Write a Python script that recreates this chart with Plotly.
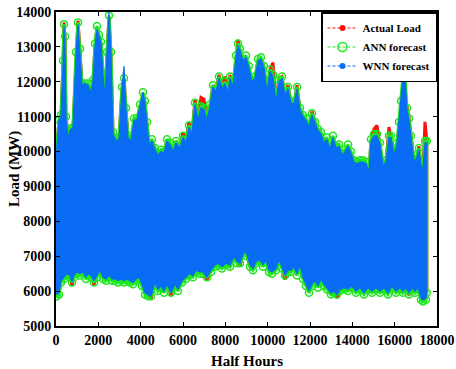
import plotly.graph_objects as go

# Upper envelope sample positions (half hours) and values (MW)
hx = [0, 47, 140, 236, 330, 378, 425, 472, 567, 661, 803, 945, 1039, 1134, 1228, 1370, 1512, 1653, 1748, 1842,
      1937, 2031, 2126, 2220, 2315, 2409, 2504, 2598, 2693, 2834, 2976, 3118, 3212, 3307, 3401, 3543, 3685, 3826,
      3968, 4110, 4204, 4299, 4393, 4535, 4677, 4818, 4960, 5102, 5244, 5385, 5527, 5669, 5858, 6000, 6141, 6283,
      6425, 6566, 6708, 6850, 6992, 7133, 7275, 7417, 7559, 7700, 7842, 7984, 8125, 8220, 8362, 8503, 8598, 8692,
      8834, 8975, 9117, 9259, 9400, 9542, 9684, 9826, 9968, 10109, 10251, 10393, 10535, 10676, 10818, 10960, 11102,
      11243, 11385, 11527, 11668, 11810, 11952, 12093, 12235, 12377, 12519, 12660, 12802, 12944, 13085, 13227,
      13369, 13510, 13652, 13794, 13936, 14077, 14219, 14361, 14503, 14644, 14786, 14880, 15022, 15164, 15306,
      15447, 15589, 15731, 15825, 15967, 16109, 16203, 16298, 16392, 16440, 16487, 16581, 16676, 16770, 16912,
      17054, 17148, 17243, 17337, 17432, 17520]

wnn_hi = [9500, 10200, 10900, 11000, 12500, 13600, 13200, 11000, 10400, 10600, 10700, 12800, 13650, 12900, 11900,
          11950, 11900, 11700, 12000, 13000, 13500, 13300, 13100, 12200, 11500, 12800, 14000, 12800, 10500, 10300,
          10350, 11800, 12450, 11200, 10400, 10300, 10900, 10900, 11300, 11700, 11400, 10800, 10200, 10300, 10050,
          9900, 10000, 9950, 10300, 10200, 10000, 10250, 10100, 10400, 10250, 10700, 10500, 11350, 10900, 11250,
          11200, 10900, 11300, 11850, 11700, 12100, 11800, 11950, 11700, 12100, 11850, 12700, 13050, 12900, 12600,
          12700, 12400, 12000, 12100, 12600, 12650, 12400, 11700, 12300, 12150, 11400, 12000, 12100, 11600, 11800,
          11400, 11350, 11800, 11200, 11000, 10900, 10700, 11050, 10800, 10600, 10500, 10250, 10350, 10050, 10400,
          10100, 10150, 9900, 10000, 10150, 9950, 9700, 9650, 9700, 9700, 9650, 9400, 10300, 10450, 10450, 10200,
          9600, 9700, 10400, 10400, 9900, 10200, 10800, 11400, 12200, 12600, 12200, 11200, 10900, 10400, 9700, 9850,
          10050, 9600, 9500, 10250, 10250]

ann_hi = [9500, 10200, 10900, 11050, 12600, 13650, 13300, 11000, 10450, 10650, 10700, 12850, 13700, 12950, 11950,
          11950, 11950, 11750, 12050, 13100, 13600, 13350, 13150, 12250, 11550, 12850, 13900, 12850, 10550, 10350,
          10400, 11850, 12100, 11250, 10450, 10350, 10950, 10950, 11350, 11700, 11450, 10850, 10250, 10350, 10100,
          9950, 10050, 10000, 10350, 10250, 10050, 10300, 10150, 10450, 10300, 10750, 10550, 11400, 10950, 11300,
          11250, 10950, 11350, 11900, 11750, 12150, 11850, 12000, 11750, 12150, 11900, 12750, 13100, 12950, 12650,
          12750, 12450, 12050, 12150, 12650, 12700, 12450, 11750, 12350, 12200, 11450, 12050, 12150, 11650, 11850,
          11450, 11400, 11850, 11250, 11050, 10950, 10750, 11100, 10850, 10650, 10550, 10300, 10400, 10100, 10450,
          10150, 10200, 9950, 10050, 10200, 10000, 9750, 9700, 9750, 9750, 9700, 9450, 10350, 10500, 10500, 10250,
          9650, 9750, 10450, 10450, 9950, 10250, 10850, 11450, 12250, 12500, 12250, 11250, 10950, 10450, 9750, 9900,
          10100, 9650, 9550, 10300, 10300]

act_hi = [9500, 10200, 10900, 11000, 12500, 13700, 13250, 11000, 10500, 10600, 10700, 12800, 13750, 12900, 11900,
          11950, 11900, 11700, 12050, 13000, 13550, 13300, 13100, 12200, 11500, 12800, 13850, 12800, 10500, 10300,
          10350, 11800, 12100, 11200, 10400, 10300, 10900, 10900, 11300, 11650, 11400, 10800, 10200, 10300, 10100,
          9900, 10000, 9950, 10350, 10200, 10000, 10300, 10150, 10550, 10300, 10850, 10500, 11500, 10900, 11550,
          11500, 10950, 11300, 11900, 11750, 12200, 11850, 12150, 11700, 12200, 11850, 12700, 13200, 12900, 12600,
          12650, 12400, 12000, 12100, 12600, 12650, 12400, 11700, 12350, 12550, 11400, 12100, 12150, 11600, 11900,
          11400, 11350, 11900, 11200, 11000, 10900, 10700, 11150, 10900, 10600, 10500, 10250, 10350, 10050, 10400,
          10100, 10150, 9900, 10000, 10150, 9950, 9700, 9650, 9700, 9700, 9650, 9400, 10300, 10650, 10750, 10200,
          9600, 9700, 10700, 10400, 9900, 10200, 10800, 11300, 11400, 11500, 11300, 11300, 11000, 10400, 9700, 9850,
          10150, 9600, 9500, 10850, 10300]

# Lower envelope sample positions (half hours) and values (MW)
lx = [0, 47, 142, 236, 378, 520, 661, 756, 850, 992, 1134, 1275, 1417, 1512, 1653, 1795, 1937, 2079, 2220, 2362,
      2504, 2645, 2787, 2929, 3071, 3212, 3354, 3496, 3637, 3779, 3921, 4063, 4204, 4346, 4488, 4677, 4818, 4960,
      5102, 5244, 5433, 5622, 5764, 5953, 6141, 6283, 6472, 6614, 6803, 6945, 7133, 7322, 7511, 7653, 7842, 8031,
      8220, 8409, 8550, 8692, 8881, 9023, 9164, 9306, 9448, 9637, 9779, 9920, 10062, 10204, 10393, 10535, 10676,
      10818, 10960, 11102, 11243, 11385, 11527, 11668, 11810, 11952, 12093, 12235, 12377, 12519, 12660, 12802,
      12991, 13133, 13274, 13416, 13605, 13794, 13983, 14172, 14361, 14550, 14739, 14928, 15117, 15306, 15495,
      15684, 15873, 16062, 16250, 16392, 16534, 16676, 16817, 16959, 17101, 17243, 17337, 17479, 17520]

wnn_lo = [6050, 5900, 5950, 6300, 6400, 6500, 6450, 6250, 6450, 6550, 6500, 6550, 6400, 6500, 6450, 6300, 6450,
          6600, 6400, 6350, 6450, 6350, 6350, 6300, 6350, 6300, 6350, 6300, 6250, 6350, 6400, 6200, 5950, 5900,
          5850, 6250, 6050, 6150, 6000, 6200, 5950, 6200, 6050, 6300, 6400, 6500, 6450, 6600, 6550, 6550, 6400,
          6600, 6750, 6800, 6700, 6800, 6750, 7000, 6850, 6800, 7150, 7050, 6750, 6650, 6850, 6900, 6750, 6900,
          6600, 6550, 6650, 6900, 6700, 6450, 6600, 6600, 6700, 6500, 6750, 6400, 6200, 6000, 6200, 6300, 6150,
          6350, 6200, 6100, 5950, 6000, 5900, 6050, 6100, 6050, 6150, 6000, 6100, 5950, 6100, 6000, 6100, 6000,
          6100, 5950, 6150, 6000, 6100, 6000, 6100, 5950, 6100, 6000, 6100, 5800, 5750, 5800, 6000]

ann_lo = [6000, 5850, 5900, 6250, 6350, 6450, 6400, 6250, 6400, 6500, 6450, 6500, 6350, 6450, 6400, 6250, 6400,
          6550, 6350, 6300, 6400, 6300, 6300, 6250, 6300, 6250, 6300, 6250, 6200, 6300, 6350, 6150, 5900, 5850,
          5850, 6200, 6000, 6100, 5950, 6150, 5950, 6150, 6000, 6250, 6350, 6450, 6400, 6550, 6500, 6500, 6400,
          6550, 6700, 6750, 6650, 6750, 6700, 6950, 6800, 6800, 7100, 7000, 6700, 6600, 6800, 6850, 6700, 6850,
          6550, 6500, 6600, 6850, 6650, 6450, 6550, 6550, 6650, 6450, 6700, 6350, 6150, 5950, 6150, 6250, 6100,
          6300, 6150, 6050, 5900, 5950, 5900, 6000, 6050, 6000, 6100, 5950, 6050, 5900, 6050, 5950, 6050, 5950,
          6050, 5900, 6100, 5950, 6050, 5950, 6050, 5900, 6050, 5950, 6050, 5750, 5700, 5750, 5950]

act_lo = [6050, 5900, 5950, 6300, 6400, 6500, 6450, 6150, 6450, 6550, 6500, 6550, 6400, 6500, 6450, 6180, 6450,
          6600, 6400, 6350, 6450, 6350, 6300, 6300, 6350, 6300, 6350, 6300, 6250, 6350, 6400, 6200, 5950, 5900,
          5780, 6250, 6050, 6150, 6000, 6200, 5880, 6200, 6050, 6300, 6400, 6500, 6450, 6600, 6550, 6550, 6320,
          6600, 6750, 6800, 6700, 6800, 6700, 7000, 6850, 6720, 7150, 7050, 6700, 6650, 6850, 6900, 6750, 6900,
          6600, 6550, 6650, 6900, 6700, 6330, 6600, 6600, 6700, 6500, 6750, 6400, 6200, 6000, 6200, 6300, 6150,
          6350, 6200, 6100, 5950, 6000, 5800, 6050, 6100, 6050, 6150, 6000, 6100, 5950, 6100, 6000, 6100, 6000,
          6100, 5950, 6150, 6000, 6050, 6000, 6100, 5880, 6100, 6000, 6100, 5800, 5720, 5800, 6000]

names = ["Actual Load", "ANN forecast", "WNN forecast"]
x_ticks = [0, 2000, 4000, 6000, 8000, 10000, 12000, 14000, 16000, 18000]
y_ticks = [5000, 6000, 7000, 8000, 9000, 10000, 11000, 12000, 13000, 14000]

RED, GREEN, BLUE = "#ff1010", "#1ee61e", "#0a6cf5"
FONT = "Liberation Serif"

fig = go.Figure()

def band(hi, lo, color, lw, marker=None):
    xs = hx + lx[::-1]
    ys = hi + lo[::-1]
    fig.add_trace(go.Scatter(
        x=xs, y=ys, fill="toself", fillcolor=color,
        mode="lines+markers" if marker else "lines",
        line=dict(color=color, width=lw),
        marker=marker, showlegend=False, hoverinfo="skip"))

band(act_hi, act_lo, RED, 3)
band(ann_hi, ann_lo, GREEN, 3, dict(symbol="circle-open", size=7, color=GREEN, line=dict(width=1.5, color=GREEN)))
band(wnn_hi, wnn_lo, BLUE, 1.2)

# legend entries
fig.add_trace(go.Scatter(x=[None], y=[None], name=names[0], mode="lines+markers",
                         line=dict(color=RED, width=1, dash="3px,2px"),
                         marker=dict(symbol="circle", size=6, color=RED)))
fig.add_trace(go.Scatter(x=[None], y=[None], name=names[1], mode="lines+markers",
                         line=dict(color=GREEN, width=1, dash="3px,2px"),
                         marker=dict(symbol="circle-open", size=9, color=GREEN, line=dict(width=1.5))))
fig.add_trace(go.Scatter(x=[None], y=[None], name=names[2], mode="lines+markers",
                         line=dict(color=BLUE, width=1, dash="3px,2px"),
                         marker=dict(symbol="circle", size=6, color=BLUE)))

axis_common = dict(showline=True, linecolor="black", linewidth=2, mirror="ticks",
                   ticks="inside", ticklen=4, tickwidth=1, tickcolor="black",
                   showgrid=False, zeroline=False, automargin=False,
                   tickfont=dict(family=FONT, size=14, color="black", weight="bold"))

fig.update_xaxes(range=[0, 18000], tickvals=x_ticks, ticktext=[str(v) for v in x_ticks], **axis_common)
fig.update_yaxes(range=[5000, 14000], tickvals=y_ticks, ticktext=[str(v) for v in y_ticks], **axis_common)

title_font = dict(family=FONT, size=15, color="black", weight="bold")
fig.add_annotation(text="Half Hours", xref="paper", yref="paper", x=0.5, y=0, yshift=-35,
                   xanchor="center", yanchor="middle", showarrow=False, font=title_font)
fig.add_annotation(text="Load (MW)", xref="paper", yref="paper", x=0, y=0.5, xshift=-42,
                   xanchor="center", yanchor="middle", textangle=-90, showarrow=False, font=title_font)

fig.update_layout(
    width=456, height=369,
    margin=dict(l=56, r=19, t=12, b=43),
    paper_bgcolor="white", plot_bgcolor="white",
    showlegend=True,
    legend=dict(x=1, y=1, xanchor="right", yanchor="top",
                bgcolor="white", bordercolor="black", borderwidth=1.5,
                font=dict(family=FONT, size=11, color="black", weight="bold"),
                itemsizing="trace", tracegroupgap=0),
)

fig.write_html("out.html", config={"displayModeBar": False},
               post_script="document.body.style.margin='0';document.body.style.overflow='hidden';")
